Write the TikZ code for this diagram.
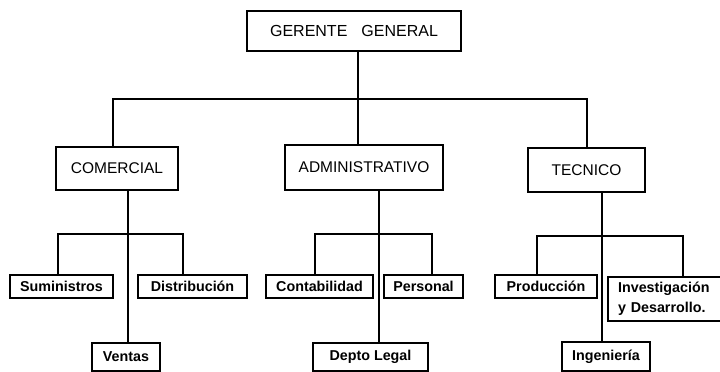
\documentclass[tikz,border=0pt]{standalone}
\usepackage{fontspec}
\setmainfont{Liberation Sans}
\begin{document}
\begin{tikzpicture}[x=1pt,y=-1pt,
  unit/.style={draw, line width=2.2pt, inner sep=0pt, align=center,
    font=\fontsize{15.5}{18}\selectfont},
  subunit/.style={draw, line width=2.2pt, inner sep=0pt, align=center,
    font=\fontsize{14.3}{17}\selectfont\bfseries},
  link/.style={line width=2.2pt}]
\useasboundingbox (0,0) rectangle (720,372);
\clip (0,0) rectangle (720,372);

% top of the chart
\node[unit, minimum width=214pt, minimum height=40pt, font=\fontsize{16}{18}\selectfont]
  (gg) at (354,31) {GERENTE\hspace{14pt}GENERAL};

% departments
\node[unit, minimum width=122pt, minimum height=43pt] (com) at (117,168.5) {COMERCIAL};
\node[unit, minimum width=158pt, minimum height=45pt] (adm) at (364,167.5) {ADMINISTRATIVO};
\node[unit, minimum width=117pt, minimum height=44pt] (tec) at (586.5,170) {TECNICO};

% sections under each department
\node[subunit, minimum width=103pt, minimum height=23pt] (sum) at (61.5,286.5) {Suministros};
\node[subunit, minimum width=109pt, minimum height=23pt] (dis) at (192.5,286.5) {Distribución};
\node[subunit, minimum width=68pt, minimum height=28pt] (ven) at (126,357) {Ventas};

\node[subunit, minimum width=107pt, minimum height=23pt] (con) at (319.5,286.5) {Contabilidad};
\node[subunit, minimum width=79pt, minimum height=23pt] (per) at (423.5,286.5) {Personal};
\node[subunit, minimum width=115pt, minimum height=28pt] (leg) at (370.5,357) {Depto Legal};

\node[subunit, minimum width=102pt, minimum height=23pt] (pro) at (546,286.5) {Producción};
\node[subunit, anchor=north west, text width=113pt, align=left, inner xsep=10pt,
  minimum height=44pt, font=\fontsize{14.3}{20}\selectfont\bfseries] (inv) at (607,276)
  {Investigación\\y Desarrollo.};
\node[subunit, minimum width=88pt, minimum height=29pt] (ing) at (606,356.5) {Ingeniería};

% general manager to departments
\draw[link] ([xshift=4pt]gg.south) -- ([xshift=-6pt]adm.north);
\draw[link] ([xshift=-4pt]com.north) -- ++(0,-47) -| ([xshift=0.5pt]tec.north);

% comercial branch
\draw[link] ([xshift=11pt]com.south) -- ([xshift=2pt]ven.north);
\draw[link] ([xshift=-3.5pt]sum.north) -- ++(0,-40) -| ([xshift=-9.5pt]dis.north);

% administrativo branch
\draw[link] ([xshift=15pt]adm.south) -- ([xshift=8.5pt]leg.north);
\draw[link] ([xshift=-4.5pt]con.north) -- ++(0,-40) -| ([xshift=8.5pt]per.north);

% tecnico branch
\draw[link] ([xshift=15.5pt]tec.south) -- ([xshift=-4pt]ing.north);
\draw[link] ([xshift=-9pt]pro.north) -- ++(0,-38) -| ([xshift=76pt]inv.north west);
\end{tikzpicture}
\end{document}
